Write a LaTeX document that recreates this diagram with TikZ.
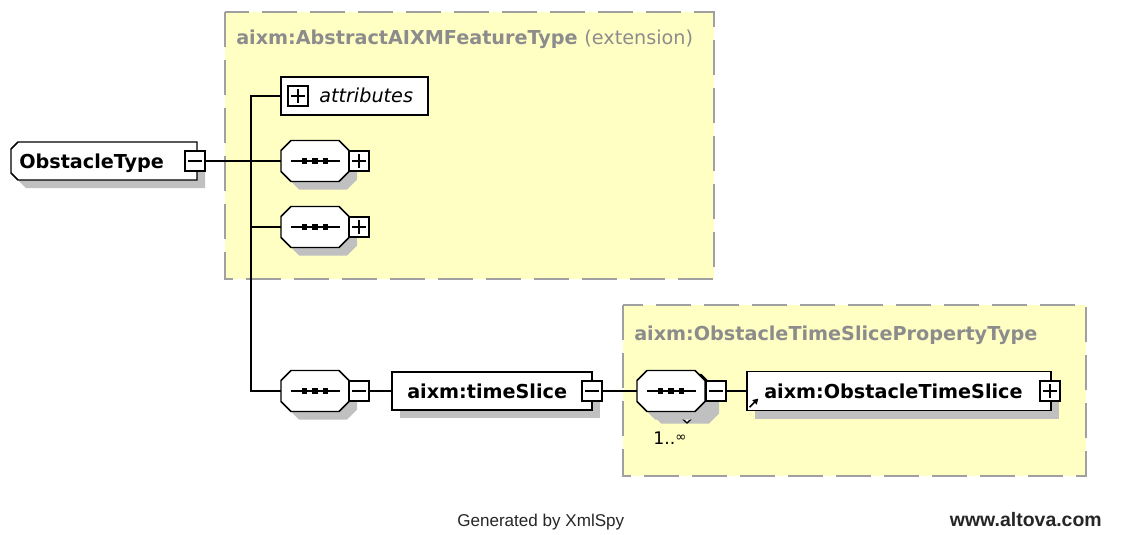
\documentclass[tikz,border=0pt]{standalone}
\usepackage{fontspec}
\setmainfont{DejaVu Sans}
\newfontfamily\footfont{Liberation Sans}
\usetikzlibrary{shadows,arrows.meta}

\definecolor{boxyellow}{HTML}{FFFFC4}
\definecolor{dashgray}{HTML}{A0A0A0}
\definecolor{titlegray}{HTML}{8C8C8C}
\definecolor{shadowgray}{HTML}{C0C0C0}

\tikzset{
  conn/.style={line width=1.1pt},
  border/.style={draw=black, line width=1.1pt, fill=white},
  typebox/.style={fill=boxyellow, draw=dashgray, line width=1.5pt,
    dash pattern=on 26pt off 10pt},
  elembox/.style={rectangle, border, inner sep=0pt,
    drop shadow={shadow xshift=6pt, shadow yshift=-6pt, fill=shadowgray, opacity=1}},
  plainbox/.style={rectangle, border, inner sep=0pt},
  anchorbox/.style={rectangle, inner sep=0pt, draw=none},
  pmbox/.style={rectangle, draw=black, line width=1pt, fill=white,
    minimum size=15pt, inner sep=0pt},
  plusbox/.style={pmbox, path picture={
    \draw[line width=1pt]
      ([xshift=2.2pt]path picture bounding box.west) -- ([xshift=-2.2pt]path picture bounding box.east)
      ([yshift=-2.2pt]path picture bounding box.north) -- ([yshift=2.2pt]path picture bounding box.south);}},
  minusbox/.style={pmbox, path picture={
    \draw[line width=1pt]
      ([xshift=2.2pt]path picture bounding box.west) -- ([xshift=-2.2pt]path picture bounding box.east);}},
  lbl/.style={inner sep=0pt, anchor=base west, font=\fontsize{14.4}{17}\selectfont\bfseries},
  attrlbl/.style={inner sep=0pt, anchor=base west, font=\fontsize{14.4}{17}\selectfont\itshape},
  title/.style={inner sep=0pt, anchor=base west, text=titlegray,
    font=\fontsize{14.4}{17}\selectfont\bfseries},
  mult/.style={inner sep=0pt, anchor=base west, font=\fontsize{13}{15}\selectfont},
  foot/.style={inner sep=0pt, text=black!85, font=\footfont\fontsize{12.8}{15}\selectfont},
}

% octagon outline: style, centre x, centre y, width, height, left cut, right cut
\newcommand\octfig[7]{%
  \path[#1] ({#2-(#4)/2+#6},{#3-(#5)/2}) -- ({#2+(#4)/2-#7},{#3-(#5)/2})
    -- ({#2+(#4)/2},{#3-(#5)/2+#7}) -- ({#2+(#4)/2},{#3+(#5)/2-#7})
    -- ({#2+(#4)/2-#7},{#3+(#5)/2}) -- ({#2-(#4)/2+#6},{#3+(#5)/2})
    -- ({#2-(#4)/2},{#3+(#5)/2-#6}) -- ({#2-(#4)/2},{#3-(#5)/2+#6}) -- cycle;}
% shadowed octagon with a named anchor node on top
\newcommand\octnode[7]{%
  \octfig{fill=shadowgray}{#2+8}{#3+8}{#4}{#5}{#6}{#7}%
  \octfig{border}{#2}{#3}{#4}{#5}{#6}{#7}%
  \node[anchorbox, minimum width={(#4)*0.75pt}, minimum height={(#5)*0.75pt}] (#1) at (#2,#3) {};}
% sequence compositor glyph
\newcommand\seqdots[1]{%
  \draw[line width=1pt] ([xshift=-18pt]#1.center) -- ([xshift=18.5pt]#1.center);
  \foreach \d in {-7.9pt,0pt,7.9pt}
    \fill ([xshift=\d]#1.center) ++(-2pt,-1.9pt) rectangle ++(4pt,3.8pt);}

\begin{document}
\begin{tikzpicture}[x=0.75pt, y=-0.75pt]
\useasboundingbox (0,0) rectangle (1124,535);
\fill[white] (0,0) rectangle (1124,535);

% type extension areas
\draw[typebox] (225,12) rectangle (714,279);
\draw[typebox] (623,305) rectangle (1086,476);
\node[title] (t1) at (236,45) {aixm:AbstractAIXMFeatureType {\mdseries(extension)}};
\node[title] (t2) at (634,340) {aixm:ObstacleTimeSlicePropertyType};

% root element
\octnode{ot}{104}{161}{186}{38}{7}{0}
\node[lbl] (otl) at (19,168) {ObstacleType};
\node[minusbox] (otm) at (195,161) {};

% attributes
\node[plainbox, minimum width=110.25pt, minimum height=28.5pt] (attr) at (354.5,96) {};
\node[plusbox] (attrp) at (298,96) {};
\node[attrlbl] (attrl) at (319,103) {attributes};

% sequences of the base type
\octnode{seqa}{315}{161}{68}{41}{10}{10}
\seqdots{seqa}
\node[plusbox] (seqap) at (359,161) {};
\octnode{seqb}{315}{227}{68}{41}{10}{10}
\seqdots{seqb}
\node[plusbox] (seqbp) at (359,227) {};

% timeSlice branch
\octnode{seqc}{315}{391}{68}{41}{10}{10}
\seqdots{seqc}
\node[minusbox] (seqcm) at (359,391) {};
\node[elembox, minimum width=150pt, minimum height=28.5pt] (ts) at (492,391) {};
\node[lbl] (tsl) at (407,398) {aixm:timeSlice};
\node[minusbox] (tsm) at (592,391) {};

% repeated sequence (1..unbounded)
\octfig{fill=shadowgray}{685}{403}{68}{41}{10}{10}
\octfig{border}{677}{395}{68}{41}{10}{10}
\filldraw[fill=white, line width=1pt] (679,415.5) -- (687,423) -- (695,415.5);
\octnode{seqd}{671}{391}{68}{41}{10}{10}
\seqdots{seqd}
\node[minusbox] (seqdm) at (716,391) {};
\node[mult] (multl) at (653,444) {1..\raisebox{0.25ex}{\fontsize{10}{12}\selectfont ∞}};

% referenced element
\node[elembox, minimum width=228pt, minimum height=29.25pt] (ots) at (899,391) {};
\node[lbl] (otsl) at (764,398) {aixm:ObstacleTimeSlice};
\node[plusbox] (otsp) at (1050,391) {};
\draw[line width=1.2pt, -{Triangle[length=4pt,width=4.5pt]}]
  ([xshift=2.5pt,yshift=3pt]ots.south west) -- ++(6.5pt,6.5pt);

% connectors
\coordinate (bustop) at (251,96);
\coordinate (busbot) at (251,391);
\draw[conn] (otm.east) -- (seqa.west);
\draw[conn] (attr.west) -- (bustop) -- (busbot) -- (seqc.west);
\draw[conn] (seqb.west) -- (seqb.west -| bustop);
\draw[conn] (seqcm.east) -- (ts.west);
\draw[conn] (tsm.east) -- (seqd.west);
\draw[conn] (seqdm.east) -- (ots.west);

% footer
\node[foot, anchor=base west] (gen) at (457,526) {Generated by XmlSpy};
\node[foot, anchor=base east, font=\footfont\fontsize{14.6}{17}\selectfont\bfseries] (alt) at (1102,526) {www.altova.com};
\end{tikzpicture}
\end{document}
